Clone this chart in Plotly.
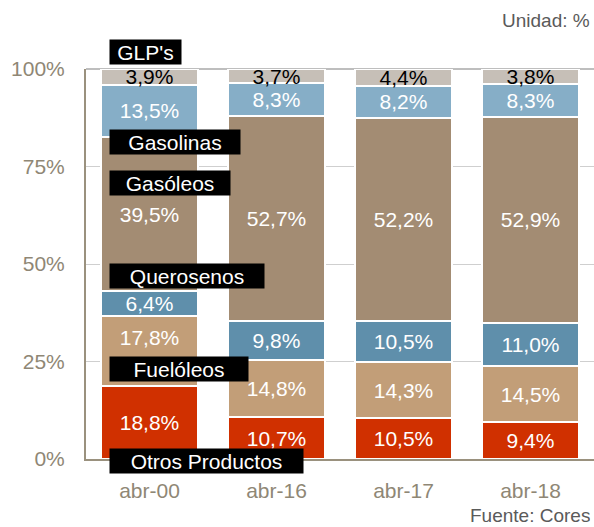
import plotly.graph_objects as go

categories = ["abr-00", "abr-16", "abr-17", "abr-18"]
otros = [18.8, 10.7, 10.5, 9.4]
fueloleos = [17.8, 14.8, 14.3, 14.5]
querosenos = [6.4, 9.8, 10.5, 11.0]
gasoleos = [39.5, 52.7, 52.2, 52.9]
gasolinas = [13.5, 8.3, 8.2, 8.3]
glp = [3.9, 3.7, 4.4, 3.8]
tick_vals = [0, 25, 50, 75, 100]
tick_text = ["0%", "25%", "50%", "75%", "100%"]

series = [
    ("Otros Productos", otros, "#D03000", "white"),
    ("Fuelóleos", fueloleos, "#C29E78", "white"),
    ("Querosenos", querosenos, "#5F8FAB", "white"),
    ("Gasóleos", gasoleos, "#A38C73", "white"),
    ("Gasolinas", gasolinas, "#86AEC7", "white"),
    ("GLP's", glp, "#C6BFB7", "black"),
]

FONT = "Liberation Sans, Arial, sans-serif"
FS = 21
W, H = 594, 527
L, R, T, B = 86, 0, 69, 68
PW, PH = W - L - R, H - T - B


def fmt(v):
    return f"{v:.1f}".replace(".", ",") + "%"


def px_x(px):
    return (px - L) / PW


def px_y(py):
    return (H - B - py) / PH


fig = go.Figure()
for name, vals, color, tcolor in series:
    texts = [fmt(v) for v in vals]
    if name == "Fuelóleos":
        # the reference lifts this label above the black "Fuelóleos" tag
        texts[0] = texts[0] + "<br> "
    fig.add_trace(go.Bar(
        x=categories, y=vals, name=name,
        marker=dict(color=color, line=dict(color="white", width=2)),
        text=texts,
        textposition="inside", insidetextanchor="middle", textangle=0,
        textfont=dict(color=tcolor, size=FS, family=FONT),
        hoverinfo="skip",
    ))

# black legend tags: (center y in pixels, box width)
tag_pos = {"GLP's": (52, 71), "Gasolinas": (142, 130), "Gasóleos": (183, 120),
           "Querosenos": (276, 154), "Fuelóleos": (369, 138),
           "Otros Productos": (461, 193)}
annotations = []
for name, _, _, _ in series:
    cy, bw = tag_pos[name]
    annotations.append(dict(
        x=px_x(109), xref="paper", xanchor="left",
        y=px_y(cy), yref="paper", yanchor="middle",
        text=name, showarrow=False, bgcolor="black",
        width=bw, height=24, borderpad=0, align="center",
        font=dict(color="white", size=FS, family=FONT),
    ))
annotations.append(dict(x=px_x(592), xref="paper", xanchor="right",
                        y=px_y(20), yref="paper", yanchor="middle",
                        text="Unidad: %", showarrow=False,
                        font=dict(color="#5A5A5A", size=19, family=FONT)))
annotations.append(dict(x=px_x(592), xref="paper", xanchor="right",
                        y=px_y(H), yref="paper", yanchor="bottom",
                        text="Fuente: Cores", showarrow=False, height=20,
                        font=dict(color="#5A5A5A", size=19, family=FONT)))

fig.update_layout(
    barmode="stack", bargap=0.23,
    width=W, height=H,
    margin=dict(l=L, r=R, t=T, b=B),
    paper_bgcolor="white", plot_bgcolor="white",
    showlegend=False,
    uniformtext=dict(minsize=FS, mode="show"),
    font=dict(family=FONT),
    annotations=annotations,
    shapes=[dict(type="line", xref="paper", yref="paper", x0=0, x1=1, y0=1, y1=1,
                 line=dict(color="#A8A8A8", width=1.5), layer="below")],
)

fig.update_xaxes(showline=True, linecolor="#9A917E", linewidth=2,
                 tickfont=dict(color="#8F8775", size=FS, family=FONT),
                 ticks="", showgrid=False, ticklabelstandoff=12)
fig.update_yaxes(range=[0, 100], tickvals=tick_vals, ticktext=tick_text,
                 showline=True, linecolor="#9A917E", linewidth=2,
                 gridcolor="#CFCFCF", gridwidth=1,
                 ticks="", ticklabelstandoff=15,
                 tickfont=dict(color="#8F8775", size=FS, family=FONT),
                 zeroline=False)

fig.write_html("out.html", config={"displayModeBar": False},
               post_script="document.body.style.margin='0';document.body.style.overflow='hidden';")
